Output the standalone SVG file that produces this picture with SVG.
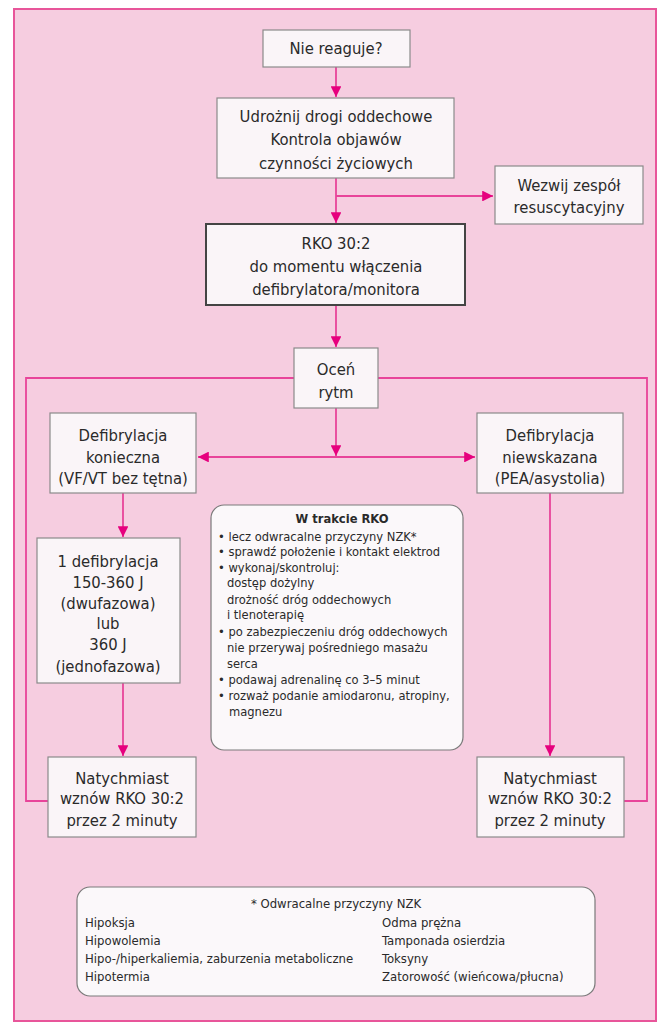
<svg xmlns="http://www.w3.org/2000/svg" width="664" height="1023" viewBox="0 0 664 1023">
<style>
.t{font-family:"Liberation Sans Narrow","DejaVu Sans Condensed","Liberation Sans",sans-serif;font-size:16.5px;fill:#2a2a2a;text-anchor:middle}
.s{font-family:"Liberation Sans Narrow","DejaVu Sans Condensed","Liberation Sans",sans-serif;font-size:12.8px;fill:#2a2a2a}
.f{font-family:"Liberation Sans Narrow","DejaVu Sans Condensed","Liberation Sans",sans-serif;font-size:13px;fill:#2a2a2a}
.box{fill:#faf5f8;stroke:#8a8a8a;stroke-width:1.2}
.rbox{fill:#fbf8fa;stroke:#7a7a7a;stroke-width:1.2}
.ln{stroke:#e8449a;stroke-width:1.8;fill:none}
</style>
<defs>
<marker id="ah" viewBox="0 0 10 10" refX="10" refY="5" markerWidth="6" markerHeight="6" orient="auto" markerUnits="strokeWidth">
<path d="M0,0 L10,5 L0,10 Z" fill="#e6007e"/>
</marker>
</defs>
<rect x="0" y="0" width="664" height="1023" fill="#ffffff"/>
<rect x="14" y="9" width="642" height="1012" fill="#f6cde0" stroke="#e8559a" stroke-width="2"/>

<g id="connectors">
<line class="ln" x1="336" y1="67" x2="336" y2="97" marker-end="url(#ah)"/>
<line class="ln" x1="336" y1="178" x2="336" y2="223" marker-end="url(#ah)"/>
<line class="ln" x1="336" y1="196" x2="493" y2="196" marker-end="url(#ah)"/>
<line class="ln" x1="336" y1="305" x2="336" y2="347" marker-end="url(#ah)"/>
<line class="ln" x1="336" y1="408" x2="336" y2="456" marker-end="url(#ah)"/>
<line class="ln" x1="336" y1="457" x2="198" y2="457" marker-end="url(#ah)"/>
<line class="ln" x1="336" y1="457" x2="475" y2="457" marker-end="url(#ah)"/>
<line class="ln" x1="123" y1="493" x2="123" y2="537" marker-end="url(#ah)"/>
<line class="ln" x1="123" y1="683" x2="123" y2="756" marker-end="url(#ah)"/>
<line class="ln" x1="550" y1="493" x2="550" y2="756" marker-end="url(#ah)"/>
<polyline class="ln" points="48,801 26,801 26,378 294,378"/>
<polyline class="ln" points="624,801 647,801 647,378 378,378"/>
</g>

<g id="n1">
<rect class="box" x="263" y="30" width="147" height="37"/>
<text class="t" x="336" y="54">Nie reaguje?</text>
</g>
<g id="n2">
<rect class="box" x="217" y="98" width="237" height="80"/>
<text class="t" x="336" y="122">Udrożnij drogi oddechowe</text>
<text class="t" x="336" y="145">Kontrola objawów</text>
<text class="t" x="336" y="169">czynności życiowych</text>
</g>
<g id="n3">
<rect class="box" x="495" y="166" width="148" height="58"/>
<text class="t" x="569" y="191">Wezwij zespół</text>
<text class="t" x="569" y="213">resuscytacyjny</text>
</g>
<g id="n4">
<rect class="box" x="206" y="224" width="259" height="81" style="stroke:#444;stroke-width:2"/>
<text class="t" x="336" y="249">RKO 30:2</text>
<text class="t" x="336" y="272">do momentu włączenia</text>
<text class="t" x="336" y="295">defibrylatora/monitora</text>
</g>
<g id="n5">
<rect class="box" x="294" y="348" width="84" height="60"/>
<text class="t" x="336" y="375">Oceń</text>
<text class="t" x="336" y="398">rytm</text>
</g>
<g id="n6">
<rect class="box" x="50" y="413" width="146" height="80"/>
<text class="t" x="123" y="441">Defibrylacja</text>
<text class="t" x="123" y="463">konieczna</text>
<text class="t" x="123" y="484">(VF/VT bez tętna)</text>
</g>
<g id="n7">
<rect class="box" x="477" y="413" width="146" height="80"/>
<text class="t" x="550" y="441">Defibrylacja</text>
<text class="t" x="550" y="463">niewskazana</text>
<text class="t" x="550" y="484">(PEA/asystolia)</text>
</g>
<g id="n8">
<rect class="box" x="37" y="538" width="143" height="145"/>
<text class="t" x="108" y="567">1 defibrylacja</text>
<text class="t" x="108" y="588">150-360 J</text>
<text class="t" x="108" y="609">(dwufazowa)</text>
<text class="t" x="108" y="629">lub</text>
<text class="t" x="108" y="650">360 J</text>
<text class="t" x="108" y="672">(jednofazowa)</text>
</g>
<g id="n9">
<rect class="box" x="48" y="757" width="148" height="80"/>
<text class="t" x="122" y="784">Natychmiast</text>
<text class="t" x="122" y="804">wznów RKO 30:2</text>
<text class="t" x="122" y="826">przez 2 minuty</text>
</g>
<g id="n10">
<rect class="box" x="477" y="757" width="147" height="80"/>
<text class="t" x="550" y="784">Natychmiast</text>
<text class="t" x="550" y="804">wznów RKO 30:2</text>
<text class="t" x="550" y="826">przez 2 minuty</text>
</g>
<g id="n11">
<rect class="rbox" x="211" y="505" width="252" height="245" rx="13"/>
<text class="s" x="342" y="523" text-anchor="middle" font-weight="bold">W trakcie RKO</text>
<text class="s" x="218" y="541">• lecz odwracalne przyczyny NZK*</text>
<text class="s" x="218" y="556">• sprawdź położenie i kontakt elektrod</text>
<text class="s" x="218" y="572">• wykonaj/skontroluj:</text>
<text class="s" x="227" y="587">dostęp dożylny</text>
<text class="s" x="227" y="604">drożność dróg oddechowych</text>
<text class="s" x="227" y="619">i tlenoterapię</text>
<text class="s" x="218" y="636">• po zabezpieczeniu dróg oddechowych</text>
<text class="s" x="227" y="652">nie przerywaj pośredniego masażu</text>
<text class="s" x="227" y="668">serca</text>
<text class="s" x="218" y="684">• podawaj adrenalinę co 3–5 minut</text>
<text class="s" x="218" y="700">• rozważ podanie amiodaronu, atropiny,</text>
<text class="s" x="229" y="716">magnezu</text>
</g>
<g id="n12">
<rect class="rbox" x="77" y="887" width="518" height="109" rx="13"/>
<text class="f" x="336" y="908" text-anchor="middle">* Odwracalne przyczyny NZK</text>
<text class="f" x="85" y="927">Hipoksja</text>
<text class="f" x="85" y="945">Hipowolemia</text>
<text class="f" x="85" y="963">Hipo-/hiperkaliemia, zaburzenia metaboliczne</text>
<text class="f" x="85" y="981">Hipotermia</text>
<text class="f" x="382" y="927">Odma prężna</text>
<text class="f" x="382" y="945">Tamponada osierdzia</text>
<text class="f" x="382" y="963">Toksyny</text>
<text class="f" x="382" y="981">Zatorowość (wieńcowa/płucna)</text>
</g>
</svg>
